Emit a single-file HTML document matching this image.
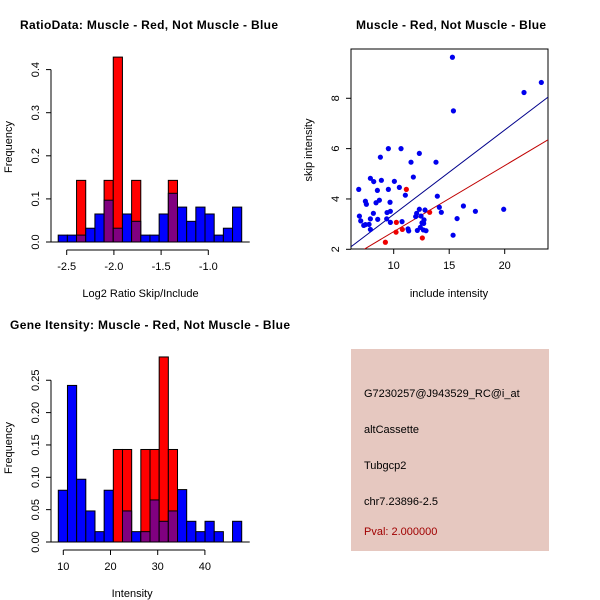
<!DOCTYPE html>
<html><head><meta charset="utf-8"><style>
html,body{margin:0;padding:0;background:#fff;}
svg{display:block;font-family:"Liberation Sans",Arial,sans-serif;}
</style></head><body>
<svg id="c" width="600" height="600" viewBox="0 0 600 600" xmlns="http://www.w3.org/2000/svg">
<text x="20" y="29" font-size="12" font-weight="bold" textLength="258">RatioData: Muscle - Red, Not Muscle - Blue</text>
<text x="356" y="29" font-size="12" font-weight="bold" textLength="190">Muscle - Red, Not Muscle - Blue</text>
<text x="10" y="329" font-size="12" font-weight="bold" textLength="280">Gene Itensity: Muscle - Red, Not Muscle - Blue</text>
<g id="p1"></g><g id="p2"></g><g id="p3"></g>
<g>
<rect x="351" y="349" width="198" height="202" fill="#e6c8c0"/>
<text x="364" y="397" font-size="11">G7230257@J943529_RC@i_at</text>
<text x="364" y="433" font-size="11">altCassette</text>
<text x="364" y="469" font-size="11">Tubgcp2</text>
<text x="364" y="505" font-size="11">chr7.23896-2.5</text>
<text x="364" y="535" font-size="11" fill="#a00000">Pval: 2.000000</text>
</g>
</svg>
<script>
const NS="http://www.w3.org/2000/svg";
// Ratio histogram data
const ratioEdgeStart=-2.59, ratioBinWidth=0.0972;
const ratioBlue=[0.016,0.016,0.016,0.032,0.065,0.097,0.032,0.065,0.048,0.016,0.016,0.065,0.113,0.081,0.048,0.081,0.065,0.016,0.032,0.081];
const ratioRed=[0,0,0.143,0,0,0.143,0.429,0,0.143,0,0,0,0.143,0,0,0,0,0,0,0];
const ratioXTicks=[-2.5,-2.0,-1.5,-1.0];
const ratioYTicks=[0,0.1,0.2,0.3,0.4];
// Intensity histogram data
const intEdgeStart=8.94, intBinWidth=1.943;
const intBlue=[0.08,0.242,0.097,0.048,0.016,0.08,0,0.048,0.016,0.016,0.065,0.032,0.048,0.081,0.032,0.016,0.032,0.016,0,0.032];
const intRed=[0,0,0,0,0,0,0.143,0.143,0,0.143,0.143,0.286,0.143,0,0,0,0,0,0,0];
const intXTicks=[10,20,30,40];
const intYTicks=[0,0.05,0.10,0.15,0.20,0.25];
// Scatter data
const blueX=[15.29,15.38,23.30,21.74,9.52,10.66,8.80,12.31,11.56,13.81,11.77,7.90,8.20,8.89,10.06,10.51,6.85,8.53,9.52,11.05,13.93,7.45,7.54,8.41,8.71,9.67,8.17,9.70,9.40,16.28,17.36,19.91,12.31,12.07,11.98,12.82,12.46,14.11,14.29,6.91,7.03,7.30,7.45,7.78,7.90,8.56,9.37,9.70,10.75,12.73,12.55,12.40,12.70,12.67,12.91,11.29,12.13,11.35,7.90,15.71,15.35];
const blueY=[9.63,7.50,8.63,8.23,6.00,6.00,5.66,5.81,5.46,5.46,4.87,4.82,4.69,4.74,4.70,4.46,4.38,4.34,4.38,4.15,4.11,3.91,3.79,3.85,3.95,3.87,3.43,3.51,3.46,3.72,3.51,3.59,3.59,3.43,3.30,3.56,3.32,3.67,3.47,3.32,3.13,2.95,2.98,2.99,3.21,3.19,3.21,3.07,3.10,3.17,3.05,2.87,3.03,2.77,2.74,2.81,2.75,2.73,2.79,3.22,2.56];
const redX=[11.14,13.24,10.24,10.21,10.78,9.25,12.58];
const redY=[4.38,3.47,3.07,2.68,2.79,2.28,2.45];
const blueFit=[0.04,0.335];
const redFit=[0.076,0.2625];
const scXTicks=[10,15,20];
const scYTicks=[2,4,6,8];

function el(parent,tag,attrs){const e=document.createElementNS(NS,tag);for(const k in attrs)e.setAttribute(k,attrs[k]);parent.appendChild(e);return e;}

function hist(gid,edge0,bw,blue,red,xt,yt,xs,ys,xLabel,xAxisY,xAxisRange,yAxisX,yAxisRange,fmt,labelCY,xlabY){
  const g=document.getElementById(gid);
  for(let i=0;i<blue.length;i++){
    const x0=xs(edge0+i*bw), x1=xs(edge0+(i+1)*bw);
    const b=blue[i], r=red[i];
    const hi=Math.max(b,r), lo=Math.min(b,r);
    if(hi>0){
      const bar=el(g,'rect',{x:x0,y:ys(hi),width:x1-x0,height:ys(0)-ys(hi),fill:r>b?'#ff0000':'#0000ff',stroke:'#000','stroke-width':1});
      
      
    }
    if(lo>0){
      const ov=el(g,'rect',{x:x0,y:ys(lo),width:x1-x0,height:ys(0)-ys(lo),fill:'#800080',stroke:'#000','stroke-width':1});
      
      
    }
  }
  const base=el(g,'line',{x1:yAxisX,x2:xs(edge0+blue.length*bw)+8,y1:ys(0),y2:ys(0),stroke:'#000'});
  
  
  // x axis
  const xa=el(g,'line',{x1:xs(xt[0]),x2:xs(xt[xt.length-1]),y1:xAxisY,y2:xAxisY,stroke:'#000'});
  
  
  xt.forEach(v=>{
    const t=el(g,'line',{x1:xs(v),x2:xs(v),y1:xAxisY,y2:xAxisY+5,stroke:'#000'});
    
    
    const l=el(g,'text',{x:xs(v),y:xAxisY+20,'font-size':11,'text-anchor':'middle'});
    l.textContent=fmt(v);
    
    
  });
  const ya=el(g,'line',{x1:yAxisX,x2:yAxisX,y1:ys(yt[0]),y2:ys(yt[yt.length-1]),stroke:'#000'});
  
  
  yt.forEach(v=>{
    const t=el(g,'line',{x1:yAxisX-5,x2:yAxisX,y1:ys(v),y2:ys(v),stroke:'#000'});
    
    
    const lx=yAxisX-12;
    const l=el(g,'text',{x:lx,y:ys(v),'font-size':11,'text-anchor':'middle',transform:'rotate(-90 '+lx+' '+ys(v)+')'});
    l.textContent=(gid==='p3')?v.toFixed(2):String(v===0?'0.0':v);
    
    
  });
  const xl=el(g,'text',{x:(xs(xt[0])+xs(xt[xt.length-1]))/2+(gid==='p1'?3:-2),y:xlabY,'font-size':11,'text-anchor':'middle'});
  xl.textContent=xLabel;
  
  
  const yl=el(g,'text',{x:12,y:labelCY,'font-size':11,'text-anchor':'middle',transform:'rotate(-90 12 '+labelCY+')'});
  yl.textContent='Frequency';
  
  
}
// panel 1
const xs1=v=>66.7+(v+2.5)*94.4, ys1=v=>242-v*431;
hist('p1',ratioEdgeStart,ratioBinWidth,ratioBlue,ratioRed,ratioXTicks,ratioYTicks,xs1,ys1,'Log2 Ratio Skip/Include',250,null,51,null,v=>v.toFixed(1),147,297);
// panel 3
const xs3=v=>63.3+(v-10)*4.72, ys3=v=>542-v*647;
hist('p3',intEdgeStart,intBinWidth,intBlue,intRed,intXTicks,intYTicks,xs3,ys3,'Intensity',550,null,51,null,v=>String(v),448,597);

// scatter
(function(){
  const g=document.getElementById('p2');
  const xs=v=>393.7+(v-10)*11.1, ys=v=>249.3-(v-2)*25.17;
  const L=351,R=548,T=49,B=249;
  const box=el(g,'rect',{x:L,y:T,width:R-L,height:B-T,fill:'none',stroke:'#000'});
  
  
  const cp=el(g,'clipPath',{id:'clipsc'});el(cp,'rect',{x:L,y:T,width:R-L,height:B-T});
  const xmin=(L-393.7)/11.1+10, xmax=(R-393.7)/11.1+10;
  [[blueFit,'#00008b','blue-fit-line'],[redFit,'#c00000','red-fit-line']].forEach(([f,c,n])=>{
    const ln=el(g,'line',{x1:xs(xmin),y1:ys(f[0]+f[1]*xmin),x2:xs(xmax),y2:ys(f[0]+f[1]*xmax),stroke:c,'clip-path':'url(#clipsc)'});
    
    
  });
  blueX.forEach((x,i)=>{
    const p=el(g,'circle',{cx:xs(x),cy:ys(blueY[i]),r:2.6,fill:'#0000ee'});
    
    
  });
  redX.forEach((x,i)=>{
    const p=el(g,'circle',{cx:xs(x),cy:ys(redY[i]),r:2.6,fill:'#ee0000'});
    
    
  });
  scXTicks.forEach(v=>{
    const t=el(g,'line',{x1:xs(v),x2:xs(v),y1:B,y2:B+5,stroke:'#000'});
    
    
    const l=el(g,'text',{x:xs(v),y:B+20,'font-size':11,'text-anchor':'middle'});
    l.textContent=String(v);
    
    
  });
  scYTicks.forEach(v=>{
    const t=el(g,'line',{x1:L-5,x2:L,y1:ys(v),y2:ys(v),stroke:'#000'});
    
    
    const lx=L-12;
    const l=el(g,'text',{x:lx,y:ys(v),'font-size':11,'text-anchor':'middle',transform:'rotate(-90 '+lx+' '+ys(v)+')'});
    l.textContent=String(v);
    
    
  });
  const xl=el(g,'text',{x:449,y:297,'font-size':11,'text-anchor':'middle'});
  xl.textContent='include intensity';
  
  
  const yl=el(g,'text',{x:312,y:150,'font-size':11,'text-anchor':'middle',transform:'rotate(-90 312 150)'});
  yl.textContent='skip intensity';
  
  
})();
</script>
</body></html>
